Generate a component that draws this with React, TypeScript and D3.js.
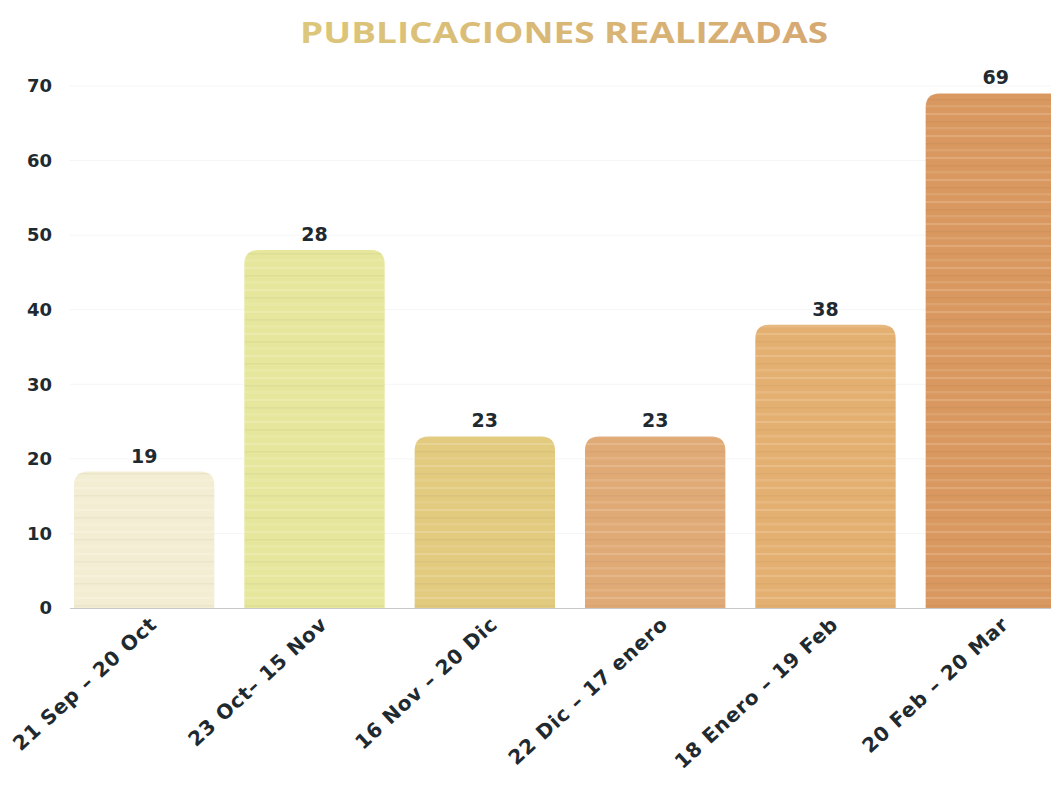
import React from "react";
import * as d3 from "d3";

const categories = ["21 Sep – 20 Oct", "23 Oct– 15 Nov", "16 Nov – 20 Dic", "22 Dic – 17 enero", "18 Enero – 19 Feb", "20 Feb – 20 Mar"];
const barHeights = [18.3, 48, 23, 23, 38, 69];
const valueLabels = ["19", "28", "23", "23", "38", "69"];
const barColors = ["#f3eed3", "#e6e79c", "#e2ca7e", "#e0aa76", "#e4b071", "#d9985f"];
const yTicks = [0, 10, 20, 30, 40, 50, 60, 70];

const W = 1051;
const H = 786;

export default function App() {
  const x = d3.scaleBand<string>().domain(categories).range([59, 1081]).paddingInner(0.176).paddingOuter(0.088);
  const y = d3.scaleLinear().domain([0, 70]).range([608, 86]);
  const r = 14;
  const font = "'DejaVu Sans', sans-serif";

  const barPath = (x0: number, w: number, yTop: number, yBot: number) => {
    const p = d3.path();
    p.moveTo(x0, yBot);
    p.lineTo(x0, yTop + r);
    p.quadraticCurveTo(x0, yTop, x0 + r, yTop);
    p.lineTo(x0 + w - r, yTop);
    p.quadraticCurveTo(x0 + w, yTop, x0 + w, yTop + r);
    p.lineTo(x0 + w, yBot);
    p.closePath();
    return p.toString();
  };

  return (
    <svg width={W} height={H} style={{ position: "absolute", left: 0, top: 0, background: "#fff" }}>
      <defs>
        <linearGradient id="titleGrad" x1="0" x2="1" y1="0" y2="0">
          <stop offset="0%" stopColor="#dcc77a" />
          <stop offset="100%" stopColor="#d6a872" />
        </linearGradient>
        <pattern id="stripes" width="8" height="22" patternUnits="userSpaceOnUse">
          <rect x="0" y="3" width="8" height="2" fill="#ffffff" opacity="0.16" />
          <rect x="0" y="11" width="8" height="1.5" fill="#000000" opacity="0.035" />
          <rect x="0" y="17" width="8" height="2.5" fill="#ffffff" opacity="0.1" />
        </pattern>
      </defs>
      <text x={300} y={43} textLength={528} lengthAdjust="spacingAndGlyphs" fontFamily="'Open Sans', sans-serif" fontWeight="bold" fontSize={29} fill="url(#titleGrad)">
        PUBLICACIONES REALIZADAS
      </text>
      {yTicks.map((t) => (
        <g key={t}>
          {t > 0 && <line x1={70} x2={W} y1={y(t)} y2={y(t)} stroke="#f5f5f5" strokeWidth={1} />}
          <text x={52} y={y(t)} dy="0.35em" textAnchor="end" fontFamily={font} fontWeight="bold" fontSize={18} fill="#1f2a30">
            {t}
          </text>
        </g>
      ))}
      <line x1={70} x2={W} y1={y(0) + 0.5} y2={y(0) + 0.5} stroke="#c8c8c8" strokeWidth={1} />
      {categories.map((c, i) => {
        const x0 = x(c)!;
        const w = x.bandwidth();
        const d = barPath(x0, w, y(barHeights[i]), y(0));
        return (
          <g key={c}>
            <path d={d} fill={barColors[i]} />
            <path d={d} fill="url(#stripes)" />
            <text x={x0 + w / 2} y={y(barHeights[i]) - 9} textAnchor="middle" fontFamily={font} fontSize={19} fontWeight={600} fill="#1f2a30">
              {valueLabels[i]}
            </text>
            <text
              transform={`translate(${x0 + w / 2 + 14},${626}) rotate(-42.5)`}
              textAnchor="end"
              fontFamily={font}
              fontWeight="bold"
              fontSize={20}
              letterSpacing={0.8}
              fill="#1f2a30"
            >
              {c}
            </text>
          </g>
        );
      })}
    </svg>
  );
}
